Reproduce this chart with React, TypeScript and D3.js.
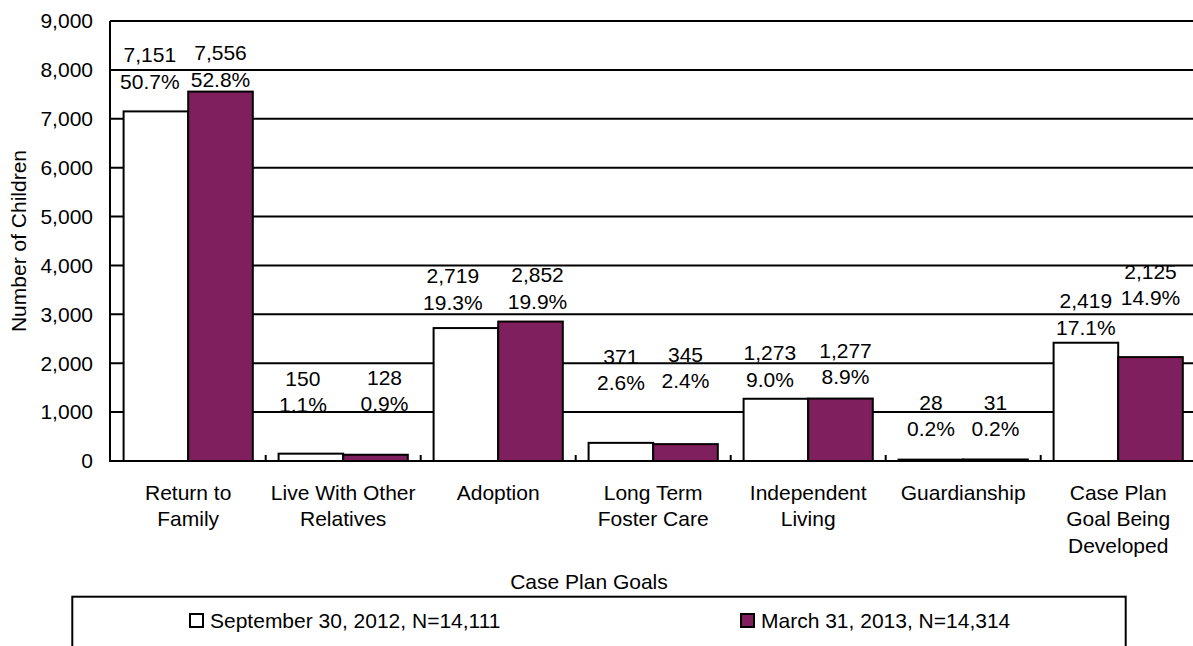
import React from "react";
import * as d3 from "d3";

const categories = [
  ["Return to", "Family"],
  ["Live With Other", "Relatives"],
  ["Adoption"],
  ["Long Term", "Foster Care"],
  ["Independent", "Living"],
  ["Guardianship"],
  ["Case Plan", "Goal Being", "Developed"],
];
const seriesNames = ["September 30, 2012, N=14,111", "March 31, 2013, N=14,314"];
const sep2012 = [7151, 150, 2719, 371, 1273, 28, 2419];
const mar2013 = [7556, 128, 2852, 345, 1277, 31, 2125];
const pctSep = ["50.7%", "1.1%", "19.3%", "2.6%", "9.0%", "0.2%", "17.1%"];
const pctMar = ["52.8%", "0.9%", "19.9%", "2.4%", "8.9%", "0.2%", "14.9%"];
const yTicks = [0, 1000, 2000, 3000, 4000, 5000, 6000, 7000, 8000, 9000];
// label anchor (axis units) for the percent line of each data label
const sepLabelAt = [7610, 1000, 3090, 1450, 1515, 510, 2580];
const marLabelAt = [7655, 1020, 3110, 1490, 1565, 510, 3190];
// horizontal nudges of the labels (px)
const sepDx = [-6, -8, -13, 0, -6, 0, 0];
const marDx = [0, 9, 7, 0, 5, 0, 0];

const FONT = "'Liberation Sans', Arial, sans-serif";
const PURPLE = "#7f1f5d";
const FS = 21;

export default function App() {
  const W = 1193, H = 646;
  const left = 110.7, right = 1195.7, top = 21, bottom = 461;
  const x = d3.scaleBand<number>().domain(d3.range(categories.length)).range([left, right]).paddingInner(0).paddingOuter(0);
  const y = d3.scaleLinear().domain([0, 9000]).range([bottom, top]);
  const bw = x.bandwidth();
  const pad = bw * 0.0832;
  const barW = (bw - 2 * pad) / 2;
  const fmt = d3.format(",");
  const series = [
    { vals: sep2012, pct: pctSep, at: sepLabelAt, dx: sepDx, fill: "#ffffff" },
    { vals: mar2013, pct: pctMar, at: marLabelAt, dx: marDx, fill: PURPLE },
  ];
  const lineGap = 26.5;

  return (
    <svg width={W} height={H} style={{ position: "absolute", left: 0, top: 0, background: "#fff" }} fontFamily={FONT}>
      {/* data labels */}
      {series.map((s, si) =>
        s.vals.map((v, i) => {
          const cx = (x(i) as number) + pad + barW * si + barW / 2 + s.dx[i];
          const py = y(s.at[i]);
          return (
            <g key={`l${si}-${i}`} fontSize={FS} textAnchor="middle" fill="#000">
              <text x={cx} y={py - lineGap}>{fmt(v)}</text>
              <text x={cx} y={py}>{s.pct[i]}</text>
            </g>
          );
        })
      )}
      {/* gridlines */}
      {yTicks.map((t) => (
        <line key={`g${t}`} x1={left - 0.7} x2={W + 5} y1={y(t)} y2={y(t)} stroke="#000" strokeWidth={2} />
      ))}
      {/* y axis line */}
      <line x1={left - 0.7} x2={left - 0.7} y1={top} y2={bottom + 1} stroke="#000" strokeWidth={2} />
      {/* category ticks */}
      {d3.range(1, categories.length).map((i) => (
        <line key={`ct${i}`} x1={x(i) as number} x2={x(i) as number} y1={bottom} y2={bottom - 6} stroke="#000" strokeWidth={2} />
      ))}
      {/* bars */}
      {series.map((s, si) =>
        s.vals.map((v, i) => (
          <rect
            key={`b${si}-${i}`}
            x={(x(i) as number) + pad + barW * si}
            y={y(v)}
            width={barW}
            height={bottom - y(v)}
            fill={s.fill}
            stroke="#000"
            strokeWidth={2}
          />
        ))
      )}
      {/* baseline on top */}
      <line x1={left - 1.7} x2={W + 5} y1={bottom} y2={bottom} stroke="#000" strokeWidth={2} />
      {/* y tick labels */}
      {yTicks.map((t) => (
        <text key={`yt${t}`} x={93} y={y(t)} dy="0.35em" fontSize={FS} textAnchor="end" fill="#000">
          {fmt(t)}
        </text>
      ))}
      {/* y title */}
      <text transform={`translate(26,${(top + bottom) / 2}) rotate(-90)`} fontSize={FS} textAnchor="middle" fill="#000">
        Number of Children
      </text>
      {/* category labels */}
      {categories.map((lines, i) => (
        <text key={`c${i}`} fontSize={FS} textAnchor="middle" fill="#000">
          {lines.map((ln, j) => (
            <tspan key={j} x={(x(i) as number) + bw / 2} y={499.5 + j * 26.5}>
              {ln}
            </tspan>
          ))}
        </text>
      ))}
      {/* x title */}
      <text x={589} y={589} fontSize={FS} textAnchor="middle" fill="#000">
        Case Plan Goals
      </text>
      {/* legend */}
      <rect x={72.3} y={596.7} width={1053.4} height={90} fill="none" stroke="#000" strokeWidth={2} />
      {[189, 740].map((lx, k) => (
        <g key={`lg${k}`}>
          <rect x={lx + 1} y={614} width={13} height={13} fill={k === 0 ? "#fff" : PURPLE} stroke="#000" strokeWidth={2} />
          <text x={lx + 21} y={628} fontSize={FS} fill="#000">
            {seriesNames[k]}
          </text>
        </g>
      ))}
    </svg>
  );
}
